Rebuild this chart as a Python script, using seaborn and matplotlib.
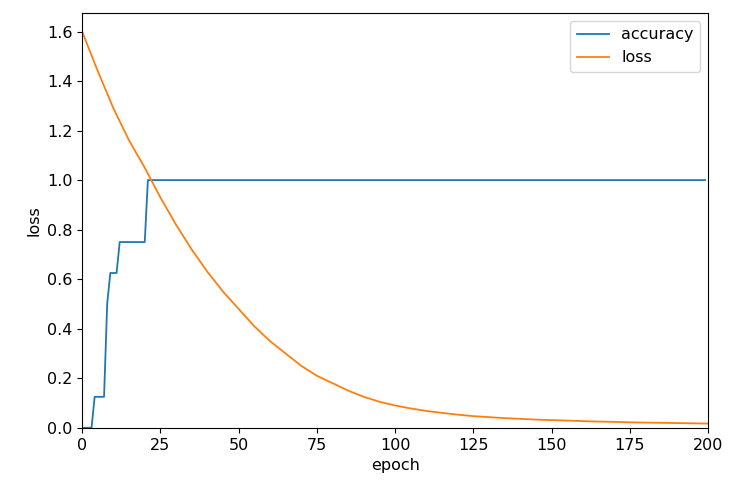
import numpy as np
import pandas as pd
import matplotlib
matplotlib.use("Agg")
import matplotlib.pyplot as plt
import seaborn as sns

plt.rcParams["font.size"] = 11.5

# accuracy step changes (epoch, value), held until next change
acc_epochs = [0, 3, 4, 7, 8, 9, 11, 12, 20, 21, 199]
acc_values = [0.0, 0.0, 0.125, 0.125, 0.5, 0.625, 0.625, 0.75, 0.75, 1.0, 1.0]

# loss read every 5 epochs
loss_epochs = list(range(0, 201, 5))
loss_values = [1.60, 1.44, 1.29, 1.16, 1.05, 0.93, 0.82, 0.72, 0.63, 0.55,
               0.48, 0.41, 0.35, 0.30, 0.25, 0.21, 0.18, 0.15, 0.125, 0.105,
               0.09, 0.078, 0.068, 0.06, 0.053, 0.047, 0.043, 0.039, 0.036, 0.033,
               0.031, 0.029, 0.027, 0.025, 0.024, 0.022, 0.021, 0.020, 0.019, 0.018,
               0.017]

acc_df = pd.DataFrame({"epoch": acc_epochs, "value": acc_values})
loss_df = pd.DataFrame({"epoch": loss_epochs, "value": loss_values})

fig, ax = plt.subplots(figsize=(7.4, 4.98), dpi=100)
sns.lineplot(data=acc_df, x="epoch", y="value", ax=ax, color="#1f77b4", linewidth=1.3, label="accuracy")
sns.lineplot(data=loss_df, x="epoch", y="value", ax=ax, color="#ff7f0e", linewidth=1.3, label="loss")
ax.set_xlim(0, 200)
ax.set_ylim(0, 1.675)
ax.set_xlabel("epoch")
ax.set_ylabel("loss")
ax.legend(loc="upper right")
fig.subplots_adjust(left=0.111, right=0.957, top=0.974, bottom=0.141)
plt.savefig("out.png")
